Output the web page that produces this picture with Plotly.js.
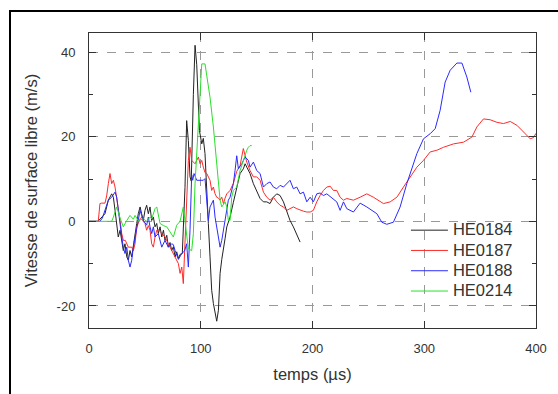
<!DOCTYPE html>
<html>
<head>
<meta charset="utf-8">
<script src="https://cdn.plot.ly/plotly-3.0.1.min.js"></script>
<style>
  html, body { margin: 0; padding: 0; background: #fff; }
  #chart { width: 558px; height: 394px; }
  #frame { position: absolute; left: 9px; top: 10px; width: 600px; height: 400px;
           border-left: 2px solid #000; border-top: 2px solid #000; pointer-events: none; }
</style>
</head>
<body>
<div id="chart"></div>
<div id="frame"></div>
<script>
// ---- data (time in µs, velocity in m/s) ----
const seriesNames = ["HE0184", "HE0187", "HE0188", "HE0214"];
const xTicks = [0, 100, 200, 300, 400];
const yTicks = [-20, 0, 20, 40];

const he0184_t = [0, 8, 14.3, 17.3, 20.3, 21.8, 23.3, 24.8, 26.2, 27.8,
  29.3, 30.7, 32.2, 33.8, 35.2, 36.7, 38.2, 39.7, 41.2, 42.7,
  44.1, 45.7, 47.1, 48.6, 50.1, 51.6, 53.1, 54.6, 56.1, 57.6,
  59.1, 60.6, 62, 63.6, 65.1, 66.6, 68, 69.6, 71, 72.5,
  74, 75.5, 77, 78.5, 80, 81.5, 83.5, 85.9, 87.4, 88.9,
  90.4, 91.5, 93.4, 94.9, 96.4, 97.9, 98.8, 100.9, 102.3, 103.8,
  104.7, 105.4, 106.8, 108.3, 109.8, 111.3, 112.8, 114.3, 115.8, 117.3,
  118.8, 120.3, 121.8, 123.3, 126.2, 129.2, 132.2, 135.2, 138.1, 139.7,
  141.2, 144.1, 147.1, 150.1, 153.1, 156.1, 159.1, 162, 165, 168,
  171, 174, 177, 179.9, 182.9, 185.9, 188.9];
const he0184_v = [0, 0, 1.8, 5.0, 6.5, 5.7, 2.6, -1.3, -3.7, -2.1,
  -5.3, -6.9, -5.3, -8.4, -9.2, -6.9, -8.4, -6.1, -3.7, -0.5,
  1.8, 3.4, 1.8, 0.2, 2.6, 3.8, 1.8, 3.4, 0.2, 1.0,
  -1.3, -0.5, -2.9, -1.3, -3.7, -2.1, -4.5, -3.3, -6.1, -5.0,
  -6.9, -6.0, -8.4, -7.2, -8.8, -7.8, -7.6, 8.0, 23.8, 19.1,
  10.5, 9.5, 30.0, 41.6, 37.0, 29.3, 21.5, 18.3, 19.6, 16.0,
  10.0, 6.0, -0.5, -8.4, -16.3, -19.4, -22.0, -23.6, -21.0, -12.3,
  -9.0, -6.8, -4.0, -1.3, 1.0, 4.5, 8.0, 11.3, 12.4, 13.6,
  12.8, 11.3, 8.9, 7.3, 5.4, 4.6, 4.6, 4.2, 5.7, 6.5,
  6.1, 4.6, 2.6, 0.2, -1.3, -3.3, -4.9];

const he0187_t = [0, 8.3, 9.8, 11.3, 14.3, 15.8, 17.3, 18.8, 20.3, 21.8,
  23.3, 24.8, 26.2, 27.8, 29.3, 30.7, 32.5, 35.2, 38.2, 39.7,
  41.2, 42.7, 44.1, 45.7, 47.1, 48.6, 50.1, 51.6, 53.1, 54.6,
  56.1, 57.6, 59.1, 60.6, 62.5, 65.1, 68, 71, 72.5, 74,
  75.5, 77, 78.5, 80, 81.5, 83, 84.4, 85.9, 87.4, 88.9,
  90.4, 91.9, 93.4, 94.9, 96.4, 97.9, 99.4, 100.9, 102.3, 103.8,
  105.4, 106.8, 108.3, 109.8, 111.3, 112.8, 114.3, 115.8, 117.3, 118.8,
  120.3, 121.8, 123.3, 126.2, 129.2, 132.2, 135.2, 138.1, 139.7, 141.2,
  144.1, 147.1, 150.1, 153.1, 156.1, 159.1, 162, 165, 168, 171,
  174, 177, 179.9, 182.9, 185.9, 188.9, 191.9, 194.9, 197.9, 200.8,
  203.8, 206.8, 209.8, 212.8, 215.8, 218.7, 221.7, 224.7, 227.7, 230.7,
  236.6, 242.6, 248.6, 254.5, 263.5, 269.5, 275.5, 281.4, 287.4, 293.4,
  299.3, 305.3, 311.3, 317.2, 326.2, 335.1, 342.6, 347.1, 353, 359,
  365, 370.9, 376.9, 382.9, 388.9, 394.8, 397.8, 400];
const he0187_v = [0, 0, 4.2, 4.3, 4.3, 6.0, 8.9, 11.3, 8.9, 9.7,
  8.1, 5.7, 2.6, 0.2, -2.9, -4.5, -4.5, -6.1, -6.1, -6.9,
  -5.3, -1.3, -0.5, 0.6, 1.0, 0.0, -0.5, -2.1, -1.0, -2.1,
  -5.3, -6.1, -3.7, -2.1, -2.0, -2.9, -3.7, -5.3, -6.1, -6.9,
  -7.6, -8.4, -9.2, -10.0, -12.3, -10.8, -14.7, -4.0, 7.3, 14.4,
  17.5, 14.4, 14.0, 13.6, 14.4, 15.2, 13.6, 14.4, 12.8, 11.5,
  11.3, 10.5, 9.7, 7.3, 8.1, 6.5, 5.7, 5.5, 5.0, 5.7,
  4.2, 5.5, 6.5, 7.3, 9.0, 11.8, 13.2, 17.2, 15.2, 14.0,
  12.0, 10.5, 10.5, 9.7, 6.9, 5.7, 5.0, 5.7, 4.6, 3.8,
  3.4, 2.6, 3.0, 3.4, 3.0, 2.6, 2.4, 2.2, 2.2, 2.6,
  4.6, 6.1, 7.3, 8.1, 8.3, 7.3, 7.3, 5.7, 5.0, 5.4,
  5.0, 5.7, 6.5, 5.7, 4.2, 4.6, 5.7, 8.1, 10.5, 12.8,
  14.4, 16.4, 16.8, 17.5, 18.3, 18.7, 19.9, 22.3, 24.2, 24.0,
  23.4, 23.1, 23.6, 22.7, 21.1, 19.5, 19.8, 20.8];

const he0188_t = [0, 9.8, 12, 14.3, 17.3, 20.3, 23.3, 24.8, 26.2, 27.8,
  29.3, 30.7, 32.2, 33.8, 35.2, 36.7, 38.2, 39.7, 41.2, 42.7,
  44.1, 45.7, 47.1, 48.6, 51.6, 53.1, 54.6, 56.1, 57.6, 59.1,
  62, 65.1, 68, 71, 74, 75.5, 77, 80, 83, 85.5,
  87.4, 88.9, 90.4, 91.9, 92.8, 94, 96.4, 99.4, 102.3, 103.8,
  105.4, 106.8, 108.3, 111.3, 112.8, 114.3, 117.3, 118.8, 120.3, 121.8,
  123.3, 124.7, 126.2, 129.2, 130.7, 132.2, 133.7, 136.7, 139.7, 142.6,
  144.1, 147.1, 150.1, 153.1, 156.1, 159.1, 162, 165, 168, 171,
  174, 177, 179.9, 182.9, 185.9, 188.9, 191.9, 194.9, 197.9, 200.8,
  203.8, 206.8, 209.8, 212.8, 215.8, 218.7, 221.7, 224.7, 227.7, 230.7,
  233.7, 236.6, 242.6, 248.6, 257.6, 262, 266.5, 272.4, 278.4, 284.4,
  293.4, 299.3, 305.3, 309.8, 314.2, 318.7, 323.2, 329.2, 333.7, 338.1,
  341.7];
const he0188_v = [0, 0, 0.8, 2.6, 5.0, 5.7, 6.9, 5.7, 2.6, -1.3,
  -3.7, -6.1, -7.6, -6.1, -9.2, -10.8, -9.2, -6.1, -3.7, -1.3,
  1.0, 2.6, 1.4, 0.2, -0.9, 1.0, -1.3, -2.9, -1.3, -3.7,
  -2.9, -6.1, -4.5, -6.1, -5.3, -5.5, -6.9, -9.0, -7.6, -7.0,
  -5.3, -10.8, -2.0, 11.0, 9.7, 11.3, 9.7, 9.7, 9.7, 10.1,
  3.4, 0.2, 3.4, 5.0, 1.0, -1.3, -6.1, -4.5, -2.1, 1.0,
  3.4, 5.0, 5.7, 8.9, 12.0, 15.5, 12.4, 13.6, 15.2, 14.4,
  12.8, 14.0, 12.0, 11.3, 8.1, 8.9, 9.3, 8.1, 7.7, 8.5,
  8.1, 8.9, 9.7, 7.7, 8.1, 6.5, 6.9, 4.6, 5.7, 4.6,
  6.5, 6.7, 6.1, 6.5, 5.8, 5.3, 4.6, 2.6, 4.6, 3.0,
  2.6, 2.2, 4.3, 3.4, 1.8, -0.2, -0.7, -0.2, 3.4, 8.9,
  16.0, 19.5, 20.7, 21.9, 26.2, 32.9, 35.7, 37.4, 37.4, 34.1,
  30.5];

const he0214_t = [0, 20.3, 21.8, 24.8, 27.8, 30.7, 33.8, 36.7, 39.7, 41.2,
  44.1, 48.6, 51.6, 54.6, 56.1, 59.1, 60.6, 63.6, 66.6, 69.6,
  72.5, 75.5, 78.5, 81.5, 84.4, 86.5, 88.9, 91.9, 93.4, 94.9,
  96.4, 100.9, 103.8, 108.3, 111.3, 115.8, 117.3, 118.8, 121.8, 123.3,
  124.7, 126.2, 127.7, 129.2, 132.2, 135.2, 138.1, 141.2, 142.6, 144.1,
  145.6];
const he0214_v = [0, 0, 1.0, 3.4, 0.8, -1.3, 0.2, 1.4, 0.5, 1.4,
  0.2, 0.6, 0.0, 1.0, 0.6, 3.0, 3.4, -0.5, -1.0, -1.3,
  -2.5, -3.7, -0.9, 0.0, 3.4, -2.0, -6.5, -6.9, -2.9, 8.9,
  16.8, 37.2, 37.2, 29.3, 22.3, 9.7, 5.0, 3.4, 4.6, 3.4,
  0.2, 0.2, 5.7, 7.3, 8.1, 12.0, 14.4, 16.8, 17.5, 17.9,
  17.9];

const colors = ["#222222", "#ff2a2a", "#2a2aff", "#2ae02a"];
const ts = [he0184_t, he0187_t, he0188_t, he0214_t];
const vs = [he0184_v, he0187_v, he0188_v, he0214_v];

const traces = seriesNames.map((n, i) => ({
  type: "scatter", mode: "lines",
  name: "<span style='font-size:16.5px'>" + n + "</span>",
  x: ts[i], y: vs[i],
  line: { color: colors[i], width: 1 }
}));

const fontFam = "Liberation Sans, Arial, sans-serif";
const layout = {
  width: 558, height: 394,
  margin: { l: 89, r: 22, t: 33, b: 66 },
  paper_bgcolor: "#fff", plot_bgcolor: "#fff",
  font: { family: fontFam, size: 13, color: "#333" },
  showlegend: true,
  legend: {
    x: 0.709, y: 0.383, xanchor: "left", yanchor: "top",
    bgcolor: "rgba(0,0,0,0)", borderwidth: 0,
    font: { family: fontFam, size: 13.3, color: "#333" },
    itemwidth: 37,
    tracegroupgap: 0
  },
  xaxis: {
    range: [0, 400], tickvals: xTicks, ticktext: xTicks.map(String),
    ticks: "inside", ticklen: 7, tickcolor: "#333", tickwidth: 1,
    showline: true, linecolor: "#333", linewidth: 1, mirror: "ticks",
    showgrid: true, gridcolor: "#999", griddash: "dash", gridwidth: 1,
    zeroline: false, ticklabelstandoff: 8,
    tickfont: { family: fontFam, size: 13, color: "#333" },
    title: { text: "temps (µs)", font: { family: fontFam, size: 16.5, color: "#333" }, standoff: 13 }
  },
  yaxis: {
    range: [-25.2, 44.5], tickvals: yTicks, ticktext: yTicks.map(String),
    ticks: "inside", ticklen: 7, tickcolor: "#333", tickwidth: 1,
    showline: true, linecolor: "#333", linewidth: 1, mirror: "ticks",
    showgrid: true, gridcolor: "#999", griddash: "dash", gridwidth: 1,
    zeroline: false, ticklabelstandoff: 10,
    minor: { dtick: 10, tick0: 0, ticks: "inside", ticklen: 4, tickcolor: "#333", showgrid: false },
    tickfont: { family: fontFam, size: 13, color: "#333" },
    title: { text: "Vitesse de surface libre (m/s)", font: { family: fontFam, size: 16.5, color: "#333" }, standoff: 14 }
  }
};

Plotly.newPlot("chart", traces, layout, { staticPlot: true, displayModeBar: false });
</script>
</body>
</html>
